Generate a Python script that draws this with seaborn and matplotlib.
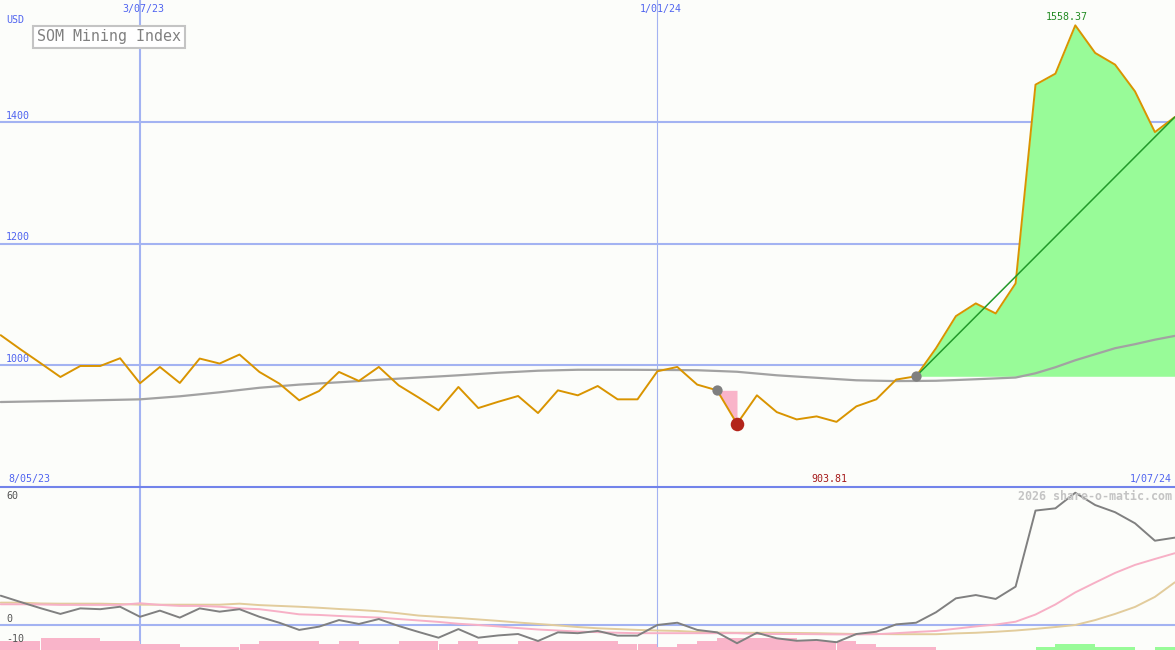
import numpy as np
import pandas as pd
import matplotlib
matplotlib.use("Agg")
import matplotlib.pyplot as plt
from matplotlib.lines import Line2D
import seaborn as sns

# ---------------- data ----------------
week_start = "2023-05-15"
n_weeks = 60
close = [1049.4, 1026.0, 1003.5, 980.7, 998.8, 998.8, 1011.5, 970.4, 997.2, 970.9,
         1011.0, 1002.8, 1017.6, 989.0, 969.9, 942.4, 957.7, 989.0, 974.2, 997.2,
         967.0, 947.0, 926.0, 964.3, 929.7, 940.0, 949.5, 921.5, 958.8, 950.6,
         965.9, 944.0, 944.0, 990.1, 997.2, 968.2, 958.8, 903.81, 950.6, 923.0,
         911.0, 916.0, 907.0, 932.5, 944.0, 976.5, 981.9, 1028.0, 1080.7, 1101.6,
         1085.1, 1134.5, 1460.9, 1479.0, 1558.37, 1513.0, 1493.8, 1449.9, 1383.0, 1407.7]
moving_avg = [939.6, 940.2, 940.8, 941.3, 941.9, 942.6, 943.3, 944.0, 946.5, 949.0,
              952.3, 955.6, 959.3, 963.0, 965.6, 968.2, 970.1, 972.0, 974.0, 976.1,
              978.0, 979.8, 981.6, 983.5, 985.6, 987.7, 989.3, 991.0, 991.8, 992.6,
              992.6, 992.6, 992.5, 992.3, 992.1, 991.8, 990.6, 989.3, 986.4, 983.5,
              981.4, 979.4, 977.3, 975.3, 974.6, 974.0, 974.2, 974.5, 975.7, 977.0,
              978.4, 979.8, 986.8, 996.7, 1008.2, 1018.1, 1028.0, 1034.6, 1042.0, 1048.2]
oscillator = [14.3, 11.2, 8.2, 5.4, 8.1, 7.7, 8.9, 4.0, 7.0, 3.6,
              8.1, 6.5, 7.7, 4.0, 1.1, -2.4, -0.8, 2.4, 0.5, 2.9,
              -0.5, -3.4, -6.2, -2.0, -6.2, -5.1, -4.4, -7.8, -3.6, -4.0,
              -2.9, -5.2, -5.2, 0.0, 1.1, -2.4, -3.6, -8.9, -3.8, -6.5,
              -7.7, -7.3, -8.4, -4.4, -3.3, 0.3, 1.1, 6.2, 13.0, 14.6,
              12.7, 18.7, 55.8, 56.9, 64.5, 58.5, 55.0, 49.6, 41.1, 42.6]
osc_fast = [10.1, 10.1, 10.0, 9.8, 9.8, 9.8, 9.8, 10.6, 9.8, 9.3,
            9.3, 8.9, 8.1, 7.7, 6.5, 5.2, 4.9, 4.4, 4.0, 3.6,
            2.9, 2.2, 1.5, 0.6, 0.0, -0.7, -1.5, -2.2, -2.7, -3.2,
            -3.5, -3.8, -4.0, -4.0, -4.0, -4.0, -4.0, -4.0, -4.4, -4.4,
            -4.4, -4.5, -4.6, -4.6, -4.5, -4.0, -3.4, -2.9, -1.8, -0.7,
            0.2, 1.6, 5.1, 10.0, 15.9, 20.7, 25.4, 29.3, 32.2, 35.0]
osc_slow = [10.9, 10.9, 10.5, 10.4, 10.4, 10.4, 10.2, 9.9, 9.9, 9.9,
            9.9, 9.9, 10.4, 9.7, 9.3, 8.9, 8.4, 7.8, 7.3, 6.7,
            5.7, 4.6, 4.0, 3.4, 2.7, 2.0, 1.2, 0.5, -0.2, -1.0,
            -1.6, -2.0, -2.4, -2.7, -2.9, -3.4, -3.7, -3.8, -3.8, -3.8,
            -3.9, -4.0, -4.2, -4.4, -4.4, -4.5, -4.5, -4.5, -4.1, -3.8,
            -3.3, -2.7, -1.9, -1.0, 0.0, 2.4, 5.4, 8.8, 13.7, 20.8]
bar_start = "2023-05-08"
bar_level = [-3, -3, -3, -4, -4, -4, -3, -3, -2, -2,
             -1, -1, -1, -2, -3, -3, -3, -2, -3, -2,
             -2, -3, -3, -2, -3, -2, -2, -3, -3, -3,
             -3, -3, -2, -2, -1, -2, -3, -4, -4, -4,
             -4, -3, -3, -3, -2, -1, -1, -1, 0, 0,
             0, 0, 0, 1, 2, 2, 1, 1, 0, 1]

grid_dates = ["2023-07-03", "2024-01-01"]
grid_labels = ["3/07/23", "1/01/24"]
price_ticks = [1000, 1200, 1400]
osc_labels = [60, 0, -10]
title = "SOM Mining Index"
left_date, right_date = "8/05/23", "1/07/24"
low_label, high_label = "903.81", "1558.37"
watermark = "2026 share-o-matic.com"
low_idx, high_idx, sell_idx, buy_idx = 37, 54, 36, 46

weeks = pd.date_range(week_start, periods=n_weeks, freq="7D")
bar_dates = pd.date_range(bar_start, periods=len(bar_level), freq="7D")
df = pd.DataFrame({"date": weeks, "close": close, "ma": moving_avg,
                   "osc": oscillator, "fast": osc_fast, "slow": osc_slow})

# ---------------- style ----------------
sns.set_style("white")
plt.rcParams["font.family"] = ["DejaVu Sans Mono", "DejaVu Sans"]
BG = "#fcfdfa"
GRID = "#a3b3f2"
BLUE_TXT = "#5064f0"
W, H = 1175, 650

fig = plt.figure(figsize=(W / 100, H / 100), dpi=100, facecolor=BG)
split = 163 / H
ax = fig.add_axes([0, split, 1, 1 - split], facecolor=BG)
ax_bar = fig.add_axes([0, 0, 1, split], facecolor=BG)
ax_osc = fig.add_axes([0, 0, 1, split], facecolor="none")

g0 = pd.Timestamp(grid_dates[0])
xlim = (g0 - pd.Timedelta(days=7 * 140 / 19.9), g0 + pd.Timedelta(days=7 * 1035 / 19.9))
for a in (ax, ax_bar, ax_osc):
    a.set_xlim(*xlim)
    a.set_xticks([])
    a.set_yticks([])
    for s in a.spines.values():
        s.set_visible(False)

# ---------------- top panel ----------------
ax.set_ylim(800, 1600)
for v in price_ticks:
    ax.axhline(v, color=GRID, lw=1.5, zorder=0)
    ax.annotate(str(v), xy=(0, v), xycoords=("axes fraction", "data"),
                xytext=(6, 1), textcoords="offset pixels", va="bottom", ha="left",
                fontsize=7.2, color=BLUE_TXT)
for d, lab, lw in zip(grid_dates, grid_labels, [1.5, 0.8]):
    dd = pd.Timestamp(d)
    ax.axvline(dd, color=GRID, lw=lw, zorder=0)
    ax_bar.axvline(dd, color=GRID, lw=lw, zorder=0)
    ax.annotate(lab, xy=(dd, 1), xycoords=("data", "axes fraction"),
                xytext=(3, -9), textcoords="offset pixels", va="center", ha="center",
                fontsize=7.2, color=BLUE_TXT)

# gain / loss fills
ax.fill_between(weeks[buy_idx:], close[buy_idx:], close[buy_idx],
                color="#98fb98", lw=0, zorder=1)
ax.fill_between(weeks[sell_idx:low_idx + 1], close[sell_idx:low_idx + 1], close[sell_idx],
                color="#f9b4c9", lw=0, zorder=1)

sns.lineplot(data=df, x="date", y="ma", ax=ax, color="#a2a2a2", lw=1.6, zorder=2)
sns.lineplot(data=df, x="date", y="close", ax=ax, color="#d99400", lw=1.4, zorder=3)
sns.lineplot(x=[weeks[buy_idx], weeks[-1]], y=[close[buy_idx], close[-1]], ax=ax,
             color="#22992a", lw=1.1, zorder=4)
ax.scatter([weeks[sell_idx], weeks[buy_idx]], [close[sell_idx], close[buy_idx]],
           s=55, color="#7f7f7f", zorder=5, lw=0)
ax.scatter([weeks[low_idx]], [close[low_idx]], s=95, color="#b3241a", zorder=5, lw=0)
ax.set_xlabel("")
ax.set_ylabel("")
ax.set_ylim(800, 1600)
ax.set_xlim(*xlim)

ax.annotate(high_label, xy=(weeks[high_idx], close[high_idx]),
            xytext=(-9, 3), textcoords="offset pixels", ha="center", va="bottom",
            fontsize=7.2, color="#228b22")


def px(x, y):
    return x / W, 1 - y / H


fig.text(*px(6, 20), "USD", fontsize=7.2, color=BLUE_TXT, ha="left", va="center")
fig.text(*px(8, 479), left_date, fontsize=7.2, color=BLUE_TXT, ha="left", va="center")
fig.text(*px(1172, 479), right_date, fontsize=7.2, color=BLUE_TXT, ha="right", va="center")
fig.text(*px(829, 479), low_label, fontsize=7.2, color="#a51a1a", ha="center", va="center")
fig.text(*px(37, 37), title, fontsize=10.8, color="#808080", ha="left", va="center",
         bbox=dict(boxstyle="square,pad=0.25", fc="white", ec="#c4c4c4", lw=1.5))
fig.text(*px(1172, 496), watermark, fontsize=8.4, color="#c4c4c4", ha="right",
         va="center", fontweight="bold")
fig.add_artist(Line2D([0, 1], [split, split], transform=fig.transFigure,
                      color="#7283ea", lw=1.5))

# ---------------- bottom panel ----------------
ax_bar.set_ylim(0, 163 / 3)
bar_colors = ["#f9b4c9" if v < 0 else "#98fb98" for v in bar_level]
ax_bar.bar(bar_dates, np.abs(bar_level), width=7, align="edge", color=bar_colors,
           lw=0, zorder=2)
ax_bar.set_xlim(*xlim)

ax_osc.set_ylim(-12.2, 67.3)
ax_osc.axhline(0, color=GRID, lw=1.5, zorder=0)
sns.lineplot(data=df, x="date", y="slow", ax=ax_osc, color="#e2cc9c", lw=1.4, zorder=2)
sns.lineplot(data=df, x="date", y="fast", ax=ax_osc, color="#f7b0c6", lw=1.4, zorder=3)
sns.lineplot(data=df, x="date", y="osc", ax=ax_osc, color="#808080", lw=1.4, zorder=4)
ax_osc.set_xlabel("")
ax_osc.set_ylabel("")
ax_osc.set_xlim(*xlim)
ax_osc.set_ylim(-12.2, 67.3)
for v in osc_labels:
    ax_osc.annotate(str(v), xy=(0, v), xycoords=("axes fraction", "data"),
                    xytext=(6, 1), textcoords="offset pixels", va="bottom", ha="left",
                    fontsize=7.2, color="#555555")

fig.savefig("out.png", dpi=100, facecolor=BG)
